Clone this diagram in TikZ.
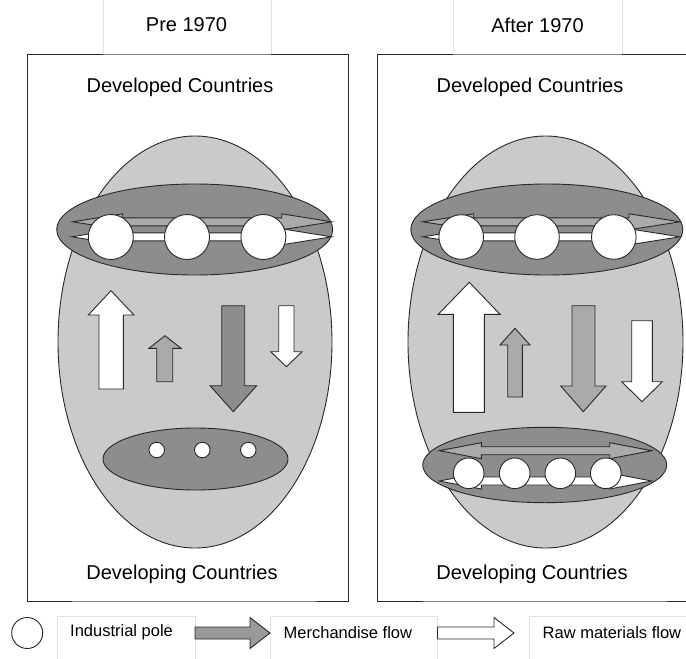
\documentclass[tikz,border=0pt]{standalone}
\usepackage{fontspec}
\setmainfont{Liberation Sans}
\definecolor{bigfill}{RGB}{202,202,202}
\definecolor{darkfill}{RGB}{141,141,141}
\definecolor{midfill}{RGB}{170,170,170}
\definecolor{legfill}{RGB}{153,153,153}
\definecolor{lineclr}{RGB}{40,40,40}
\definecolor{faint}{RGB}{226,226,226}
\newcommand\dblarr[5]{%
 \draw[#1] (#2,#4) -- ({#2+#5},{#4-8}) -- ({#2+#5},{#4-4}) -- ({#3-#5},{#4-4}) -- ({#3-#5},{#4-8}) -- (#3,#4) -- ({#3-#5},{#4+8}) -- ({#3-#5},{#4+4}) -- ({#2+#5},{#4+4}) -- ({#2+#5},{#4+8}) -- cycle;}
\begin{document}
\begin{tikzpicture}[x=1pt,y=-1pt,
  outl/.style={draw=lineclr,line width=0.9pt,line join=miter},
  pole/.style={circle,draw=lineclr,line width=0.9pt,fill=white,inner sep=0pt},
  head/.style={font=\fontsize{20}{24}\selectfont,inner sep=0pt},
  legtext/.style={font=\fontsize{16.5}{20}\selectfont,inner sep=0pt,anchor=west},
  faintbox/.style={draw=faint,line width=0.8pt,fill=white}]
\useasboundingbox (0,0) rectangle (686,659);
\begin{scope}
\clip (0,0) rectangle (686,659);
% tabs
\draw[faintbox] (103,-5) rectangle (271,54);
\draw[faintbox] (453,-5) rectangle (622,54);
\node[head] (pre) at (186.5,25) {Pre 1970};
\node[head] (after) at (537.5,25) {After 1970};
% frames
\draw[draw=lineclr,line width=1pt] (27,54) rectangle (348,601);
\draw[draw=lineclr,line width=1pt] (377.5,54) rectangle (695,601);
\draw[draw=black!50,line width=0.9pt] (103,54) -- (271,54) (453,54) -- (622,54)
  (72,601) -- (317,601) (423,601) -- (667,601);
\node[head] (devdL) at (180,87) {Developed Countries};
\node[head] (devdR) at (530,87) {Developed Countries};
\node[head] (devgL) at (182,574) {Developing Countries};
\node[head] (devgR) at (532,574) {Developing Countries};
% ===== left panel =====
\draw[outl,fill=bigfill] (195,342) ellipse [x radius=137,y radius=206];
\draw[outl,fill=darkfill] (194.7,229.5) ellipse [x radius=138,y radius=45.5];
\dblarr{outl,fill=midfill}{72.7}{331.7}{221.8}{50}
\dblarr{outl,fill=white}{71.7}{331.7}{236.8}{50}
\node[pole,minimum size=45pt] (pL1) at (110.8,237) {};
\node[pole,minimum size=45pt] (pL2) at (187,237) {};
\node[pole,minimum size=45pt] (pL3) at (263.4,237) {};
% vertical flows left
\draw[outl,fill=white] (99,389) -- (99,315) -- (88.3,315) -- (111,290.7) -- (134,315) -- (123.3,315) -- (123.3,389) -- cycle;
\draw[outl,fill=midfill] (156.7,381.7) -- (156.7,348.3) -- (149,348.3) -- (165,335.7) -- (181,348.3) -- (172.7,348.3) -- (172.7,381.7) -- cycle;
\draw[outl,fill=darkfill] (221.7,305.7) -- (221.7,385.7) -- (210,385.7) -- (233.3,411.7) -- (256.7,385.7) -- (244.7,385.7) -- (244.7,305.7) -- cycle;
\draw[outl,fill=white] (278.7,305.7) -- (278.7,351.7) -- (270.7,351.7) -- (286.4,366.7) -- (302,351.7) -- (294,351.7) -- (294,305.7) -- cycle;
% bottom ellipse left
\draw[outl,fill=darkfill] (195.5,459) ellipse [x radius=92.5,y radius=31];
\node[pole,minimum size=15.5pt] (sL1) at (156.7,450) {};
\node[pole,minimum size=15.5pt] (sL2) at (202.3,450) {};
\node[pole,minimum size=15.5pt] (sL3) at (248.3,450) {};
% ===== right panel =====
\draw[outl,fill=bigfill] (545.5,342) ellipse [x radius=137.5,y radius=206];
\draw[outl,fill=darkfill] (546.8,229.5) ellipse [x radius=136,y radius=45.5];
\dblarr{outl,fill=midfill}{422.7}{680}{221.8}{51}
\dblarr{outl,fill=white}{422.7}{680}{236.8}{51}
\node[pole,minimum size=44.6pt] (pR1) at (461.2,237) {};
\node[pole,minimum size=44.6pt] (pR2) at (537,237) {};
\node[pole,minimum size=44.6pt] (pR3) at (613.8,237) {};
% vertical flows right
\draw[outl,fill=white] (453.3,412.3) -- (453.3,314.3) -- (438.3,314.3) -- (469.3,282.3) -- (500,314.3) -- (484.3,314.3) -- (484.3,412.3) -- cycle;
\draw[outl,fill=midfill] (507.7,397) -- (507.7,345) -- (500,345) -- (515,328.3) -- (530,345) -- (522.3,345) -- (522.3,397) -- cycle;
\draw[outl,fill=midfill] (572,305.7) -- (572,386) -- (560.7,386) -- (583.3,411.7) -- (606,386) -- (595,386) -- (595,305.7) -- cycle;
\draw[outl,fill=white] (631.7,320.7) -- (631.7,381.7) -- (621.7,381.7) -- (642,401.7) -- (662.3,381.7) -- (652.3,381.7) -- (652.3,320.7) -- cycle;
% bottom ellipse right
\draw[outl,fill=darkfill] (544.7,465) ellipse [x radius=122,y radius=37.7];
\dblarr{outl,fill=midfill}{439.3}{651.7}{450.7}{42}
\dblarr{outl,fill=white}{439.3}{651.7}{481}{42}
\node[pole,minimum size=30.6pt] (qR1) at (468.7,473.3) {};
\node[pole,minimum size=30.6pt] (qR2) at (514.7,473.3) {};
\node[pole,minimum size=30.6pt] (qR3) at (560.3,473.3) {};
\node[pole,minimum size=30.6pt] (qR4) at (605.8,473.3) {};
% ===== legend =====
\draw[faintbox] (57.3,616) rectangle (195,670);
\draw[faintbox] (270,616) rectangle (437.5,670);
\draw[faintbox] (529,616) rectangle (695,670);
\node[pole,minimum size=31pt] (legpole) at (27.2,633) {};
\node[legtext] (lt1) at (70,632.3) {Industrial pole};
\node[legtext] (lt2) at (283.5,632.3) {Merchandise flow};
\node[legtext] (lt3) at (542.5,632.3) {Raw materials flow};
\draw[outl,fill=legfill] (195,627) -- (250,627) -- (250,617.5) -- (270,633) -- (250,648.5) -- (250,639) -- (195,639) -- cycle;
\draw[outl,fill=white] (437.5,627) -- (494,627) -- (494,617.5) -- (514,633) -- (494,648.5) -- (494,639) -- (437.5,639) -- cycle;
\end{scope}
\end{tikzpicture}
\end{document}
